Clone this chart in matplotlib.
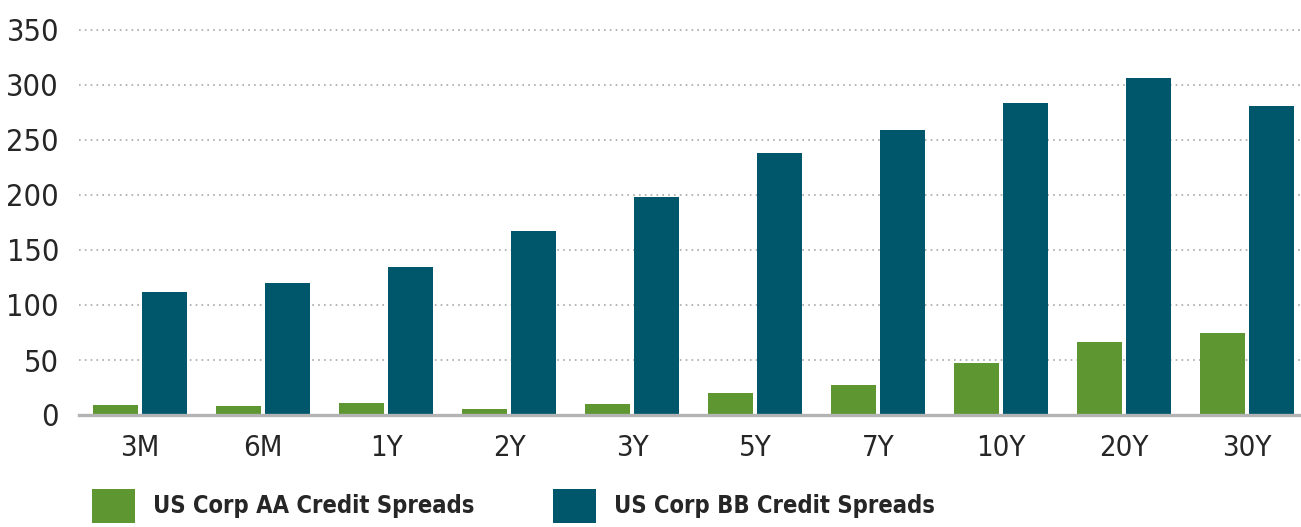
import matplotlib
matplotlib.use("Agg")
import matplotlib.pyplot as plt
import numpy as np
from matplotlib.patches import Patch

categories = ["3M", "6M", "1Y", "2Y", "3Y", "5Y", "7Y", "10Y", "20Y", "30Y"]
aa_spreads = [9, 8, 11, 5.5, 10, 20, 27, 47, 66, 75]
bb_spreads = [112, 120, 135, 167, 198, 238, 259, 284, 306, 281]
series_names = ["US Corp AA Credit Spreads", "US Corp BB Credit Spreads"]
yticks = [0, 50, 100, 150, 200, 250, 300, 350]

GREEN = "#5E9732"
TEAL = "#00566A"
TEXT = "#262626"

plt.rcParams['font.family'] = ['DejaVu Sans']
plt.rcParams['font.stretch'] = 'condensed'

W, H = 1301, 527
fig = plt.figure(figsize=(W / 100, H / 100), dpi=100)

left_px, right_px = 78.5, 1301
bottom_px, top_px = 415, 24.5
ax = fig.add_axes([left_px / W, 1 - bottom_px / H, (right_px - left_px) / W, (bottom_px - top_px) / H])

step_px = 123.0
ax.set_xlim(-0.5, -0.5 + (right_px - left_px) / step_px)
ax.set_ylim(0, (bottom_px - top_px) / 1.1)

x = np.arange(len(categories))
bw = 45 / step_px
gap = 4 / step_px
ax.bar(x - (bw + gap) / 2, aa_spreads, width=bw, color=GREEN, zorder=3, label=series_names[0])
ax.bar(x + (bw + gap) / 2, bb_spreads, width=bw, color=TEAL, zorder=3, label=series_names[1])

ax.set_yticks(yticks)
ax.set_yticklabels([str(v) for v in yticks])
ax.set_xticks(x)
ax.set_xticklabels(categories)
ax.tick_params(axis='y', length=0, pad=14, labelsize=22, labelcolor=TEXT)
ax.tick_params(axis='x', length=0, pad=14, labelsize=21, labelcolor=TEXT)

ax.yaxis.grid(True, color="#a8a8a8", linewidth=1.2, linestyle=(0, (1, 2.5)), zorder=0)
ax.set_axisbelow(True)
for s in ["top", "right", "left"]:
    ax.spines[s].set_visible(False)
ax.spines["bottom"].set_color("#b3b3b3")
ax.spines["bottom"].set_linewidth(2.4)
ax.spines["bottom"].set_zorder(4)

fs = 17
fs_px = fs * 100 / 72
handles = [Patch(facecolor=GREEN, edgecolor="none"), Patch(facecolor=TEAL, edgecolor="none")]
leg = fig.legend(handles, series_names, loc="upper left",
                 bbox_to_anchor=(92 / W, 1 - 489 / H), ncol=2, frameon=False,
                 prop={'weight': 'bold', 'size': fs},
                 handlelength=43 / fs_px, handleheight=43 / fs_px,
                 handletextpad=18 / fs_px, columnspacing=79 / fs_px,
                 borderpad=0, borderaxespad=0)
for t in leg.get_texts():
    t.set_color(TEXT)

fig.savefig("out.png", dpi=100)
